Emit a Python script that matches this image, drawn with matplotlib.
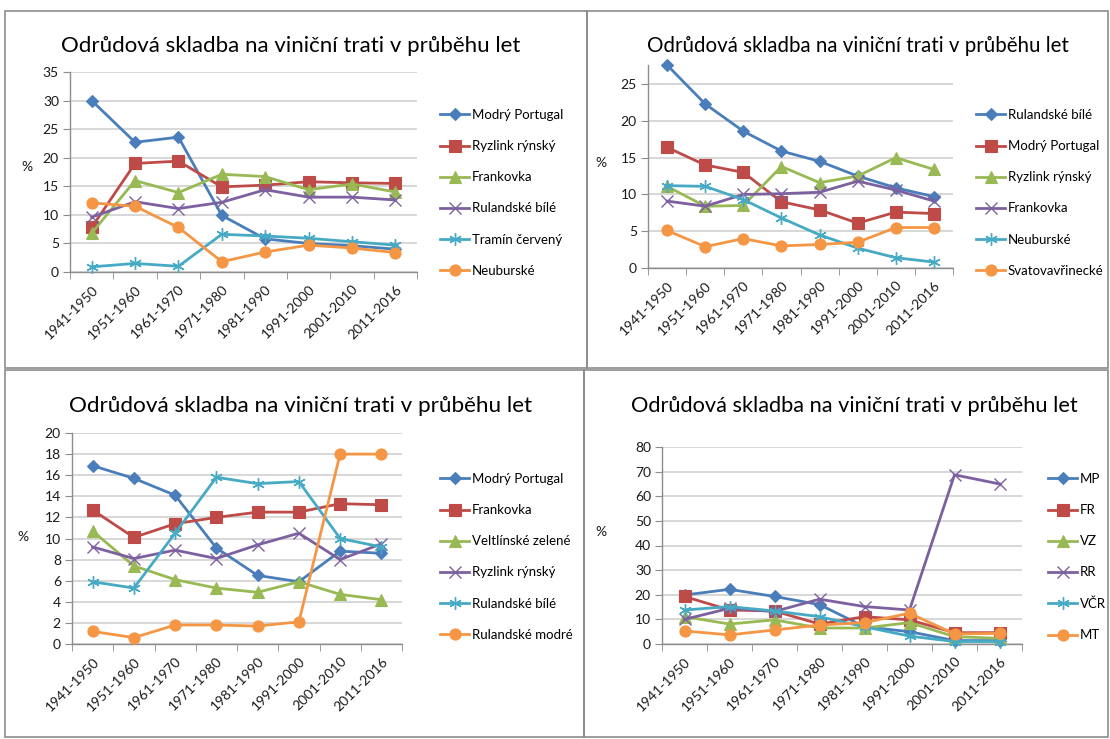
# -*- coding: utf-8 -*-
# four excel-style line charts: variety composition over time
import numpy as np
import matplotlib
matplotlib.use('agg')
import matplotlib.pyplot as plt
from matplotlib.patches import Rectangle

plt.rcParams['font.family'] = ['Lato', 'DejaVu Sans']

periods = ['1941-1950', '1951-1960', '1961-1970', '1971-1980',
           '1981-1990', '1991-2000', '2001-2010', '2011-2016']
title = 'Odrůdová skladba na viniční trati v průběhu let'

# panel 1 (top left)
p1_labels = ['Modrý Portugal', 'Ryzlink rýnský', 'Frankovka',
             'Rulandské bílé', 'Tramín červený', 'Neuburské']
p1_s1 = [30.0, 22.7, 23.6, 9.9, 5.8, 5.0, 4.6, 4.0]
p1_s2 = [7.8, 19.0, 19.4, 14.9, 15.2, 15.8, 15.6, 15.5]
p1_s3 = [6.8, 16.0, 13.9, 17.1, 16.7, 14.4, 15.4, 14.0]
p1_s4 = [9.6, 12.3, 11.1, 12.2, 14.4, 13.1, 13.1, 12.6]
p1_s5 = [0.9, 1.5, 1.0, 6.6, 6.3, 5.9, 5.3, 4.7]
p1_s6 = [12.1, 11.5, 7.8, 1.8, 3.5, 4.7, 4.2, 3.4]

# panel 2 (top right)
p2_labels = ['Rulandské bílé', 'Modrý Portugal', 'Ryzlink rýnský',
             'Frankovka', 'Neuburské', 'Svatovavřinecké']
p2_s1 = [27.6, 22.3, 18.6, 15.9, 14.5, 12.5, 10.9, 9.7]
p2_s2 = [16.4, 14.0, 13.0, 9.0, 7.9, 6.1, 7.6, 7.4]
p2_s3 = [11.1, 8.4, 8.5, 13.8, 11.6, 12.5, 15.0, 13.4]
p2_s4 = [9.1, 8.4, 10.0, 10.1, 10.3, 11.8, 10.6, 9.1]
p2_s5 = [11.2, 11.1, 9.3, 6.8, 4.5, 2.7, 1.4, 0.8]
p2_s6 = [5.1, 2.9, 4.0, 3.0, 3.2, 3.5, 5.5, 5.5]

# panel 3 (bottom left)
p3_labels = ['Modrý Portugal', 'Frankovka', 'Veltlínské zelené',
             'Ryzlink rýnský', 'Rulandské bílé', 'Rulandské modré']
p3_s1 = [16.9, 15.7, 14.1, 9.1, 6.5, 5.9, 8.8, 8.6]
p3_s2 = [12.7, 10.1, 11.4, 12.0, 12.5, 12.5, 13.3, 13.2]
p3_s3 = [10.7, 7.4, 6.1, 5.3, 4.9, 5.9, 4.7, 4.2]
p3_s4 = [9.2, 8.1, 8.9, 8.1, 9.4, 10.5, 8.0, 9.5]
p3_s5 = [5.9, 5.3, 10.5, 15.8, 15.2, 15.4, 10.0, 9.2]
p3_s6 = [1.2, 0.6, 1.8, 1.8, 1.7, 2.1, 18.0, 18.0]

# panel 4 (bottom right)
p4_labels = ['MP', 'FR', 'VZ', 'RR', 'VČR', 'MT']
p4_s1 = [19.9, 22.2, 19.3, 16.0, 7.0, 5.0, 1.4, 1.4]
p4_s2 = [19.3, 13.8, 13.4, 8.1, 11.1, 9.8, 4.6, 4.6]
p4_s3 = [11.1, 8.1, 9.8, 6.5, 6.5, 8.7, 3.0, 2.3]
p4_s4 = [10.0, 14.5, 13.2, 18.2, 15.2, 13.8, 68.7, 65.0]
p4_s5 = [13.8, 15.2, 13.4, 11.1, 7.0, 3.2, 1.0, 1.0]
p4_s6 = [5.3, 3.7, 5.7, 7.7, 8.7, 12.5, 4.1, 4.3]

colors = ['#4A7EBB', '#BE4B48', '#98B954', '#7D60A0', '#46AAC5', '#F59645']
markers = ['D', 's', '^', 'x', (6, 2, 0), 'o']
msizes = [6, 8, 8, 8, 9, 8]

W, H = 1110, 739
fig = plt.figure(figsize=(W / 100, H / 100), dpi=100)


def px_axes(l, t, r, b):
    return fig.add_axes([l / W, 1 - b / H, (r - l) / W, (b - t) / H])


def panel(box, rect, ylim, ystep, series, labels, title_xy, title_fs, pct_xy, leg_xy):
    # panel frame
    fig.add_artist(Rectangle((box[0] / W, 1 - box[3] / H), (box[2] - box[0]) / W,
                             (box[3] - box[1]) / H, transform=fig.transFigure,
                             fill=False, edgecolor='#8c8c8c', lw=1.2))
    ax = px_axes(*rect)
    x = np.arange(len(periods))
    handles = []
    for i, s in enumerate(series):
        h, = ax.plot(x, s, color=colors[i], lw=2.0, marker=markers[i], ms=msizes[i],
                     mfc=colors[i], mec=colors[i], mew=1.0 if i in (3, 4) else 0.8,
                     clip_on=False, zorder=3 + i)
        handles.append(h)
    ax.set_xlim(-0.5, len(periods) - 0.5)
    ax.set_ylim(0, ylim)
    ax.set_yticks(np.arange(0, ylim + 0.01, ystep))
    ax.set_xticks(x)
    ax.set_xticks(np.arange(-0.5, len(periods), 1), minor=True)
    ax.set_xticklabels(periods, rotation=45, ha='right', va='top',
                       rotation_mode='anchor', fontsize=10, color='#1a1a1a')
    ax.tick_params(axis='x', which='major', length=0, pad=8)
    ax.tick_params(axis='x', which='minor', length=5, color='#8c8c8c')
    ax.tick_params(axis='y', length=5, color='#8c8c8c', labelsize=10,
                   labelcolor='#1a1a1a', pad=3)
    ax.grid(axis='y', color='#d4d4d4', lw=1.3)
    ax.set_axisbelow(True)
    for sp in ['top', 'right']:
        ax.spines[sp].set_visible(False)
    for sp in ['left', 'bottom']:
        ax.spines[sp].set_color('#8c8c8c')
        ax.spines[sp].set_linewidth(1.0)
    fig.text(title_xy[0] / W, 1 - title_xy[1] / H, title, fontsize=title_fs,
             ha='center', va='center', color='#000000')
    fig.text(pct_xy[0] / W, 1 - pct_xy[1] / H, '%', fontsize=10,
             ha='center', va='center', color='#1a1a1a')
    fig.legend(handles, labels, loc='upper left',
               bbox_to_anchor=(leg_xy[0] / W, 1 - leg_xy[1] / H),
               frameon=False, fontsize=9.5, labelspacing=1.45, handlelength=2.2,
               handletextpad=0.2, borderpad=0, borderaxespad=0)
    return ax


panel((5, 11, 587, 368), (70, 72, 417, 272), 35, 5,
      [p1_s1, p1_s2, p1_s3, p1_s4, p1_s5, p1_s6], p1_labels,
      (291, 46), 16, (27, 167), (440, 109))
panel((587, 11, 1108, 368), (648, 65, 953, 268), 27.6, 5,
      [p2_s1, p2_s2, p2_s3, p2_s4, p2_s5, p2_s6], p2_labels,
      (858, 46), 14.8, (601, 163), (976, 109))
panel((5, 370, 584, 737), (72, 433, 402, 644), 20, 2,
      [p3_s1, p3_s2, p3_s3, p3_s4, p3_s5, p3_s6], p3_labels,
      (301, 406), 16.2, (23, 537), (440, 473))
panel((584, 370, 1108, 737), (662, 447, 1022, 644), 80, 10,
      [p4_s1, p4_s2, p4_s3, p4_s4, p4_s5, p4_s6], p4_labels,
      (854, 406), 15.7, (601, 532), (1048, 473))

fig.savefig('out.png', dpi=100)
plt.close()
